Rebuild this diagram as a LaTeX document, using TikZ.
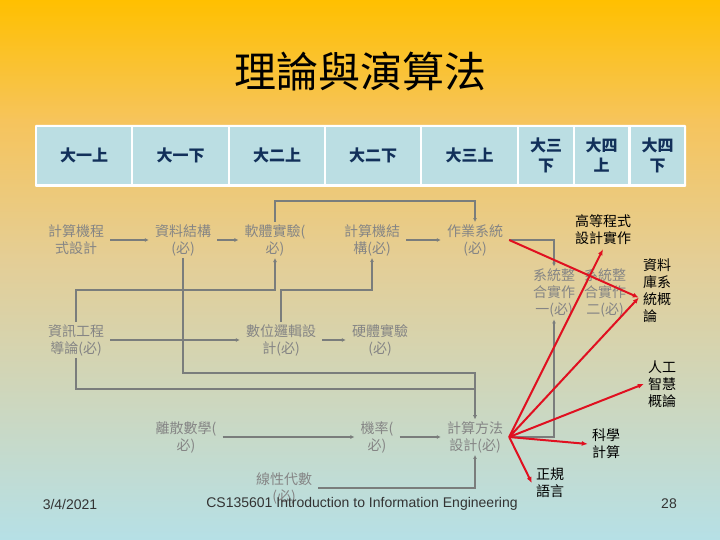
\documentclass[tikz,border=0pt]{standalone}
\usepackage{fontspec}
\setmainfont{Liberation Sans}
\newfontfamily\cjk{Noto Sans CJK TC}
\usetikzlibrary{arrows.meta}

\definecolor{bgtop}{HTML}{FFC000}
\definecolor{bgupper}{HTML}{F6C45C}
\definecolor{bgmid}{HTML}{E4CE96}
\definecolor{bgbottom}{HTML}{B6E0E6}
\definecolor{cellblue}{HTML}{BBDEE3}
\definecolor{headnavy}{HTML}{12305A}
\definecolor{coursegray}{HTML}{858585}
\definecolor{linegray}{HTML}{7A7D7C}
\definecolor{linkred}{HTML}{E01020}

\begin{document}
\begin{tikzpicture}
[
	x=1pt, y=-1pt,
	yearcell/.style={fill=cellblue,minimum height=57pt,inner sep=0pt,align=center,text=headnavy,font=\cjk\bfseries\fontsize{16}{20}\selectfont},
	course/.style={align=center,text=coursegray,inner xsep=6pt,inner ysep=2pt,font=\cjk\fontsize{14}{17}\selectfont},
	elective/.style={text=black,inner sep=4pt,font=\cjk\fontsize{14}{17}\selectfont},
	footer/.style={text=black!80,font=\fontsize{14}{16}\selectfont},
	flow/.style={draw=linegray,line width=1.6pt,-{Latex[length=4pt,width=4pt]}},
	link/.style={draw=linkred,line width=2pt,-{Latex[length=6pt,width=5pt]}}
]

	\useasboundingbox (0,0) rectangle (720,540);

	% background
	\shade[top color=bgtop,bottom color=bgupper] (0,0) rectangle (720,121);
	\shade[top color=bgupper,bottom color=bgmid] (0,120) rectangle (720,261);
	\shade[top color=bgmid,bottom color=bgbottom] (0,260) rectangle (720,540);

	\node (title) at (360,72) {\cjk\fontsize{42}{48}\selectfont 理論與演算法};

	% year table
	\fill[white,rounded corners=1pt] (35,125) rectangle (686,187);
	\foreach \cx/\w/\lab [count=\n] in {84/94/大一上, 180.5/95/大一下, 277/94/大二上, 373/94/大二下, 469.5/95/大三上, 546/54/{大三\\下}, 601.5/53/{大四\\上}, 657.5/53/{大四\\下}}
		\node[yearcell,minimum width=\w*1pt] (year\n) at (\cx,155.5) {\lab};

	% required courses
	\node[course] (cp) at (76,240) {計算機程\\式設計};
	\node[course] (ds) at (183,240) {資料結構\\(必)};
	\node[course] (swl) at (275,240) {軟體實驗(\\必)};
	\node[course] (ca) at (372,240) {計算機結\\構(必)};
	\node[course] (os) at (475,240) {作業系統\\(必)};
	\node[course] (intro) at (76,340) {資訊工程\\導論(必)};
	\node[course] (logic) at (281,340) {數位邏輯設\\計(必)};
	\node[course] (hwl) at (380,340) {硬體實驗\\(必)};
	\node[course] (sys1) at (554,293) {系統整\\合實作\\一(必)};
	\node[course] (sys2) at (605,293) {系統整\\合實作\\二(必)};
	\node[course] (dm) at (186,437) {離散數學(\\必)};
	\node[course] (prob) at (377,437) {機率(\\必)};
	\node[course] (algo) at (475,437) {計算方法\\設計(必)};
	\node[course] (la) at (284,488) {線性代數\\(必)};

	% electives
	\node[elective,align=center] (adv) at (603,230) {高等程式\\設計實作};
	\node[elective,align=left] (db) at (657,291) {資料\\庫系\\統概\\論};
	\node[elective,align=center] (ai) at (662,384) {人工\\智慧\\概論};
	\node[elective,align=center] (sci) at (606,444) {科學\\計算};
	\node[elective,align=center] (reg) at (550,483) {正規\\語言};

	% prerequisites
	\draw[flow] (cp) -- (ds);
	\draw[flow] (ds) -- (swl);
	\draw[flow] (ca) -- (os);
	\draw[flow] (intro) -- (logic);
	\draw[flow] (logic) -- (hwl);
	\draw[flow] (dm) -- (prob);
	\draw[flow] (prob) -- (algo);
	\draw[flow] (swl.north) -- ++(0,-21) -| (os.north);
	\draw[flow] (intro.north) -- ++(0,-32) -| (swl.south);
	\draw[flow] (logic.north) -- ++(0,-32) -| (ca.south);
	\draw[flow] (ds.south) -- ++(0,115) -| (algo.north);
	\draw[flow] (intro.south) -- ++(0,31) -| (algo.north);
	\draw[flow] (la.east) -| (algo.south);
	\draw[flow] (os.east) -| (sys1.north);
	\draw[flow] (algo.east) -| (sys1.south);

	% to electives
	\draw[link] (os.east) -- (db.200);
	\draw[link] (algo.east) -- (db.200);
	\draw[link] (algo.east) -- (adv.south);
	\draw[link] (algo.east) -- (ai.west);
	\draw[link] (algo.east) -- (sci.west);
	\draw[link] (algo.east) -- (reg.west);

	% footer
	\node[footer] (date) at (70,504) {3/4/2021};
	\node[footer] (coursename) at (362,504) {CS135601 Introduction to Information Engineering};
	\node[footer] (page) at (669,504) {28};

\end{tikzpicture}
\end{document}
